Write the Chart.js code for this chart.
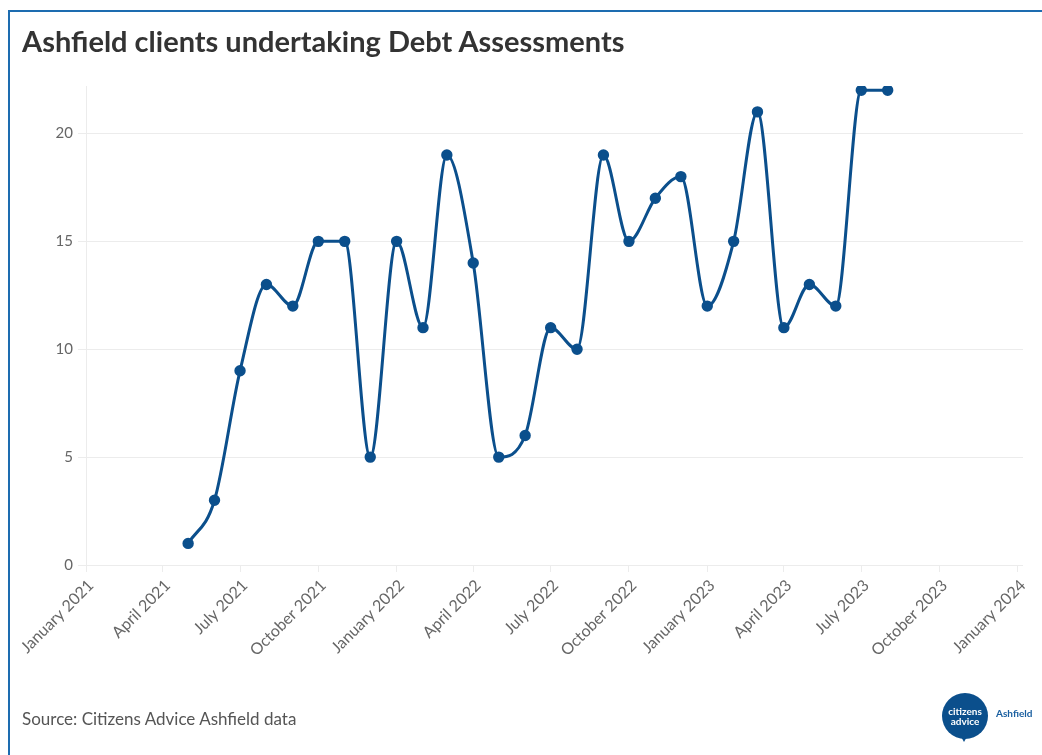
<!DOCTYPE html>
<html>
<head>
<meta charset="utf-8">
<script src="https://cdn.jsdelivr.net/npm/chart.js@4/dist/chart.umd.min.js"></script>
<style>
  body { margin: 0; background: #fff; font-family: Lato, "Noto Sans", sans-serif; }
  #page { position: relative; width: 1042px; height: 755px; overflow: hidden; }
  #frame { position: absolute; left: 8px; top: 10px; width: 1100px; height: 800px;
           border-top: 2px solid #1d6cb0; border-left: 2px solid #1d6cb0; }
  #title { position: absolute; left: 22px; top: 26px; font-size: 29px; line-height: 29px;
           font-weight: 700; color: #333; white-space: nowrap; }
  #source { position: absolute; left: 22px; top: 710px; font-size: 17px; line-height: 17px;
            color: #555; }
  #wrap { position: absolute; left: 0; top: 0; width: 1042px; height: 755px; }
  #logo { position: absolute; left: 942px; top: 693px; width: 46px; height: 46px;
          border-radius: 50%; background: #0b4f8c; color: #fff; font-weight: 700;
          font-size: 10px; line-height: 10px; text-align: center; }
  #logo span { display: block; padding-top: 13px; }
  #logo:after { content: ""; position: absolute; left: 18px; top: 42px; width: 0; height: 0;
                border-left: 4px solid transparent; border-right: 4px solid transparent;
                border-top: 7px solid #0b4f8c; }
  #logoName { position: absolute; left: 996px; top: 707px; font-size: 10px; font-weight: 700;
              color: #1a5fa0; }
</style>
</head>
<body>
<div id="page">
  <div id="frame"></div>
  <div id="wrap"><canvas id="chart" width="1042" height="755"></canvas></div>
  <div id="title">Ashfield clients undertaking Debt Assessments</div>
  <div id="source">Source: Citizens Advice Ashfield data</div>
  <div id="logo"><span>citizens<br>advice</span></div>
  <div id="logoName">Ashfield</div>
</div>
<script>
// monthly debt assessment counts
const months = ['2021-05-01','2021-06-01','2021-07-01','2021-08-01','2021-09-01','2021-10-01',
  '2021-11-01','2021-12-01','2022-01-01','2022-02-01','2022-03-01','2022-04-01','2022-05-01',
  '2022-06-01','2022-07-01','2022-08-01','2022-09-01','2022-10-01','2022-11-01','2022-12-01',
  '2023-01-01','2023-02-01','2023-03-01','2023-04-01','2023-05-01','2023-06-01','2023-07-01',
  '2023-08-01'];
const assessments = [1,3,9,13,12,15,15,5,15,11,19,14,5,6,11,10,19,15,17,18,12,15,21,11,13,12,22,22];

const tickDates = ['2021-01-01','2021-04-01','2021-07-01','2021-10-01','2022-01-01','2022-04-01',
  '2022-07-01','2022-10-01','2023-01-01','2023-04-01','2023-07-01','2023-10-01','2024-01-01'];
const tickLabels = ['January 2021','April 2021','July 2021','October 2021','January 2022','April 2022',
  'July 2022','October 2022','January 2023','April 2023','July 2023','October 2023','January 2024'];
const yTicks = [0,5,10,15,20];

// x positions are days since the first tick
const start = Date.parse(tickDates[0]);
const toDays = d => (Date.parse(d) - start) / 86400000;
const tickDays = tickDates.map(toDays);

const points = months.map((m, i) => ({x: toDays(m), y: assessments[i]}));

const grey = '#ececec';
const family = 'Lato, "Noto Sans", sans-serif';

new Chart(document.getElementById('chart'), {
  type: 'line',
  data: {
    datasets: [{
      data: points,
      borderColor: '#0b4f8c',
      backgroundColor: '#0b4f8c',
      borderWidth: 3,
      pointRadius: 4.2,
      pointHoverRadius: 4.2,
      cubicInterpolationMode: 'monotone'
    }]
  },
  options: {
    responsive: false,
    animation: false,
    events: [],
    layout: {padding: {top: 86, right: 19, bottom: 95, left: 0}},
    plugins: {legend: {display: false}, tooltip: {enabled: false}},
    scales: {
      x: {
        type: 'linear',
        min: 0,
        max: tickDays[tickDays.length - 1] + 6,
        afterBuildTicks: s => { s.ticks = tickDays.map(v => ({value: v})); },
        afterFit: s => { s.height = 95; },
        grid: {drawOnChartArea: false, drawTicks: true, tickLength: 7, color: grey},
        border: {display: false},
        ticks: {
          color: '#666', font: {family: family, size: 16}, padding: 4, labelOffset: 5,
          minRotation: 45, maxRotation: 45, autoSkip: false,
          callback: v => tickLabels[tickDays.indexOf(v)]
        }
      },
      y: {
        min: 0,
        max: 22.2,
        afterBuildTicks: s => { s.ticks = yTicks.map(v => ({value: v})); },
        afterFit: s => { s.width = 86; },
        grid: {color: grey, tickLength: 8},
        border: {display: true, color: grey},
        ticks: {color: '#666', font: {family: family, size: 15}, padding: 5}
      }
    }
  }
});
</script>
</body>
</html>
